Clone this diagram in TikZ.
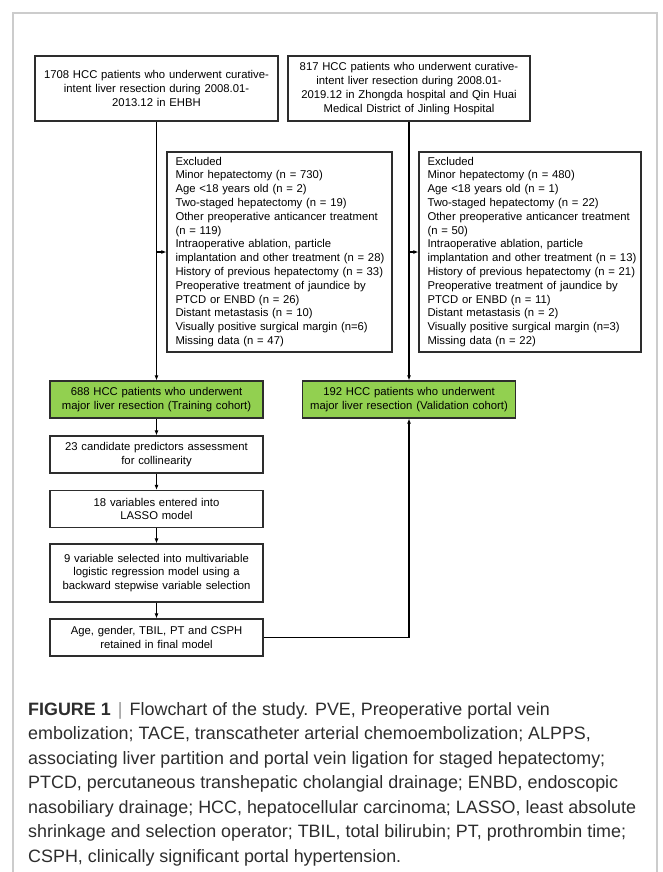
\documentclass[tikz,border=0pt]{standalone}
\usepackage{fontspec}
\setmainfont{Liberation Sans}
\usetikzlibrary{arrows.meta}
\definecolor{gfill}{RGB}{146,208,80}
\definecolor{framegray}{RGB}{204,204,204}
\definecolor{boxline}{RGB}{45,45,45}
\definecolor{captxt}{RGB}{45,45,45}
\definecolor{sepgray}{RGB}{150,150,150}
\begin{document}
\begin{tikzpicture}[x=1pt,y=-1pt,
  box/.style={draw=boxline, line width=1.2pt, fill=white, text=black,
    font=\fontsize{11.3}{13.8}\selectfont, align=center, inner xsep=3pt, inner ysep=0pt},
  greenbox/.style={box, fill=gfill},
  exbox/.style={box, align=left, inner xsep=8.5pt, text width=208pt, minimum width=225pt, minimum height=200pt},
  arr/.style={draw=black, line width=1.1pt, -{Latex[length=5pt,width=4pt]}},
  captext/.style={anchor=base west, inner sep=0pt, text=captxt, font=\fontsize{17.9}{24.5}\selectfont}
]
\useasboundingbox (0,0) rectangle (663,872);
\draw[framegray, line width=2pt] (12.5,872) -- (12.5,13) -- (657,13) -- (657,872);

% top boxes
\node[box, text width=237pt, minimum width=243pt, minimum height=65pt] (b1) at (156.5,88.5)
  {1708 HCC patients who underwent curative-\\intent liver resection during 2008.01-\\2013.12 in EHBH};
\node[box, text width=236pt, minimum width=242pt, minimum height=65pt] (b2) at (409,88.5)
  {817 HCC patients who underwent curative-\\intent liver resection during 2008.01-\\2019.12 in Zhongda hospital and Qin Huai\\Medical District of Jinling Hospital};

% excluded boxes
\node[exbox] (exL) at (279.5,252)
  {\noindent\begin{tabular}{@{}l@{}}Excluded\\Minor hepatectomy (n = 730)\\Age <18 years old (n = 2)\\Two-staged hepatectomy (n = 19)\\Other preoperative anticancer treatment\\(n = 119)\\Intraoperative ablation, particle\\implantation and other treatment (n = 28)\\History of previous hepatectomy (n = 33)\\Preoperative treatment of jaundice by\\PTCD or ENBD (n = 26)\\Distant metastasis (n = 10)\\Visually positive surgical margin (n=6)\\Missing data (n = 47)\end{tabular}};
\node[exbox, text width=205pt, minimum width=222pt] (exR) at (530,252)
  {\noindent\begin{tabular}{@{}l@{}}Excluded\\Minor hepatectomy (n = 480)\\Age <18 years old (n = 1)\\Two-staged hepatectomy (n = 22)\\Other preoperative anticancer treatment\\(n = 50)\\Intraoperative ablation, particle\\implantation and other treatment (n = 13)\\History of previous hepatectomy (n = 21)\\Preoperative treatment of jaundice by\\PTCD or ENBD (n = 11)\\Distant metastasis (n = 2)\\Visually positive surgical margin (n=3)\\Missing data (n = 22)\end{tabular}};

% green boxes
\node[greenbox, text width=207pt, minimum width=213pt, minimum height=37pt] (g1) at (156.5,399.5)
  {688 HCC patients who underwent\\major liver resection (Training cohort)};
\node[greenbox, text width=207pt, minimum width=213pt, minimum height=37pt] (g2) at (409,399.5)
  {192 HCC patients who underwent\\major liver resection (Validation cohort)};

% lower boxes
\node[box, text width=207pt, minimum width=213pt, minimum height=37pt] (s1) at (156.5,454.5)
  {23 candidate predictors assessment\\for collinearity};
\node[box, text width=207pt, minimum width=213pt, minimum height=37pt] (s2) at (156.5,509)
  {18 variables entered into\\LASSO model};
\node[box, text width=207pt, minimum width=213pt, minimum height=58pt] (s3) at (156.5,573)
  {9 variable selected into multivariable\\logistic regression model using a\\backward stepwise variable selection};
\node[box, text width=207pt, minimum width=213pt, minimum height=37pt] (s4) at (156.5,637.5)
  {Age, gender, TBIL, PT and CSPH\\retained in final model};

% connectors
\draw[arr] (b1.south) -- (g1.north);
\draw[arr] (b1.south |- exL.west) -- (exL.west);
\draw[arr] (b2.south) -- (g2.north);
\draw[arr] (b2.south |- exR.west) -- (exR.west);
\draw[arr] (g1.south) -- (s1.north);
\draw[arr] (s1.south) -- (s2.north);
\draw[arr] (s2.south) -- (s3.north);
\draw[arr] (s3.south) -- (s4.north);
\coordinate (turn) at (g2.south |- s4.east);
\draw[arr] (s4.east) -- (turn) -- (g2.south);

% caption
\node[captext] (c1) at (28,715) {{\bfseries FIGURE 1}\hspace{0.4em}{\color{sepgray}|}\hspace{0.4em}Flowchart of the study. PVE, Preoperative portal vein};
\node[captext] (c2) at (28,739.5) {embolization; TACE, transcatheter arterial chemoembolization; ALPPS,};
\node[captext] (c3) at (28,764) {associating liver partition and portal vein ligation for staged hepatectomy;};
\node[captext] (c4) at (28,788.5) {PTCD, percutaneous transhepatic cholangial drainage; ENBD, endoscopic};
\node[captext] (c5) at (28,813) {nasobiliary drainage; HCC, hepatocellular carcinoma; LASSO, least absolute};
\node[captext] (c6) at (28,837.5) {shrinkage and selection operator; TBIL, total bilirubin; PT, prothrombin time;};
\node[captext] (c7) at (28,862) {CSPH, clinically significant portal hypertension.};
\end{tikzpicture}
\end{document}
